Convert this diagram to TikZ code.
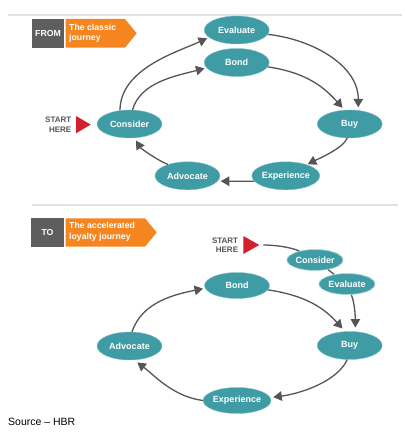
\documentclass[tikz,border=0pt]{standalone}
\usepackage{fontspec}
\setmainfont{Liberation Sans}
\usetikzlibrary{shapes.geometric,arrows.meta}
\definecolor{tealc}{HTML}{3F9CA5}
\definecolor{tealedge}{HTML}{7FC0C6}
\definecolor{orangec}{HTML}{F5861F}
\definecolor{grayc}{HTML}{5E5E5E}
\definecolor{redc}{HTML}{D3202F}
\definecolor{arrc}{HTML}{555555}
\definecolor{rulec}{HTML}{E2E2E2}
\definecolor{starttxt}{HTML}{555555}
\tikzset{
  stage/.style={ellipse, fill=tealc, draw=tealedge, line width=0.4pt, inner sep=0pt,
    minimum width=65pt, minimum height=28pt, text=white,
    font=\fontsize{9}{10}\selectfont\bfseries},
  smallstage/.style={stage, minimum width=56pt, minimum height=21pt, draw=tealedge!70!white,
    line width=1pt, dash pattern=on 1.5pt off 1pt},
  arr/.style={draw=arrc, line width=1.3pt, -{Triangle[length=8.5pt,width=9.5pt]}},
  plainline/.style={draw=arrc, line width=1.3pt},
  starttext/.style={text=starttxt, align=right, inner sep=0pt,
    font=\fontsize{8}{9.5}\selectfont\bfseries},
  tagbox/.style={fill=grayc, text=white, inner sep=0pt, minimum width=32.5pt, minimum height=28.5pt,
    font=\fontsize{8.7}{10}\selectfont\bfseries},
  tagtext/.style={text=white, align=left, anchor=west, inner sep=0pt,
    font=\fontsize{8.7}{10.7}\selectfont\bfseries},
  rule/.style={draw=rulec, line width=1.5pt}
}
\begin{document}
\begin{tikzpicture}[x=1pt,y=-1pt]
\useasboundingbox (0,0) rectangle (404,435);
\fill[white] (0,0) rectangle (404,435);
% separator lines
\draw[rule] (8,15) -- (402,15);
\draw[rule] (32,205) -- (398,205);

% ===== top: classic journey =====
\node[tagbox] (from) at (48,33.3) {FROM};
\fill[orangec] (65.7,19) -- (125,19) -- (136.7,33.3) -- (125,47.7) -- (65.7,47.7) -- cycle;
\node[tagtext] (classic) at (69,33.3) {The classic\\journey};

\node[stage] (ev1) at (236.7,30) {Evaluate};
\node[stage] (bond1) at (236.7,62.5) {Bond};
\node[stage] (cons1) at (129.5,124) {Consider};
\node[stage] (buy1) at (349.7,124) {Buy};
\node[stage] (exp1) at (285.8,175.8) {Experience};
\node[stage] (adv1) at (187.5,175.8) {Advocate};

\node[starttext, anchor=east] (start1) at (71.5,124.5) {START\\HERE};
\fill[redc] (76,116) -- (90.7,124.6) -- (76,133.3) -- cycle;

\draw[arr, shorten >=2pt] (cons1.125) .. controls +(0,-42) and +(-30,14) .. (ev1.195);
\draw[arr, shorten >=2pt] (cons1.78) .. controls +(8,-28) and +(-30,8) .. (bond1.190);
\draw[arr, shorten >=3pt] (ev1.-8) .. controls +(45,5) and +(0,-45) .. (buy1.58);
\draw[arr, shorten >=3pt] (bond1.-8) .. controls +(40,6) and +(-20,-22) .. (buy1.110);
\draw[arr, shorten >=1pt] (buy1.-100) .. controls +(-4,10) and +(12,-6) .. (exp1.28);
\draw[arr, shorten >=3pt] (exp1.190) -- (adv1.-10);
\draw[arr, shorten >=3pt] (adv1.150) .. controls +(-12,-5) and +(6,10) .. (cons1.-70);

% ===== bottom: accelerated loyalty journey =====
\node[tagbox] (to) at (47.5,232.5) {TO};
\fill[orangec] (65.7,218.3) -- (145,218.3) -- (156.7,232.5) -- (145,246.7) -- (65.7,246.7) -- cycle;
\node[tagtext] (accel) at (69,232) {The accelerated\\loyalty journey};

\node[starttext, anchor=east] (start2) at (238.3,245.3) {START\\HERE};
\fill[redc] (243.3,236) -- (259.3,245) -- (243.3,254) -- cycle;
\coordinate (tip2) at (259.3,245);

\node[smallstage] (cons2) at (315,260) {Consider};
\node[smallstage] (ev2) at (347,284) {Evaluate};
\node[stage, minimum height=26pt] (bond2) at (237,285.5) {Bond};
\node[stage] (adv2) at (129.5,346) {Advocate};
\node[stage] (buy2) at (349.7,345.5) {Buy};
\node[stage, minimum height=26pt] (exp2) at (237,400.5) {Experience};

\draw[plainline, shorten <=4pt] (tip2) .. controls +(15,0) and +(-10,-4) .. (cons2.150);
\draw[plainline] (cons2) -- (ev2);
\draw[arr, shorten >=4pt] (ev2.-68) .. controls +(4,10) and +(0,-10) .. (buy2.68);
\draw[arr, shorten >=4pt] (bond2.-8) .. controls +(40,6) and +(-20,-22) .. (buy2.108);
\draw[arr, shorten >=3pt] (buy2.-100) .. controls +(-10,22) and +(30,-4) .. (exp2.5);
\draw[arr, shorten >=4pt] (exp2.west) .. controls +(-30,-4) and +(20,15) .. (adv2.-72);
\draw[arr, shorten >=2pt] (adv2.80) .. controls +(10,-30) and +(-30,6) .. (bond2.185);

\node[anchor=west, inner sep=0pt, font=\fontsize{10.5}{12}\selectfont] (src) at (8,421.7) {Source – HBR};
\end{tikzpicture}
\end{document}
